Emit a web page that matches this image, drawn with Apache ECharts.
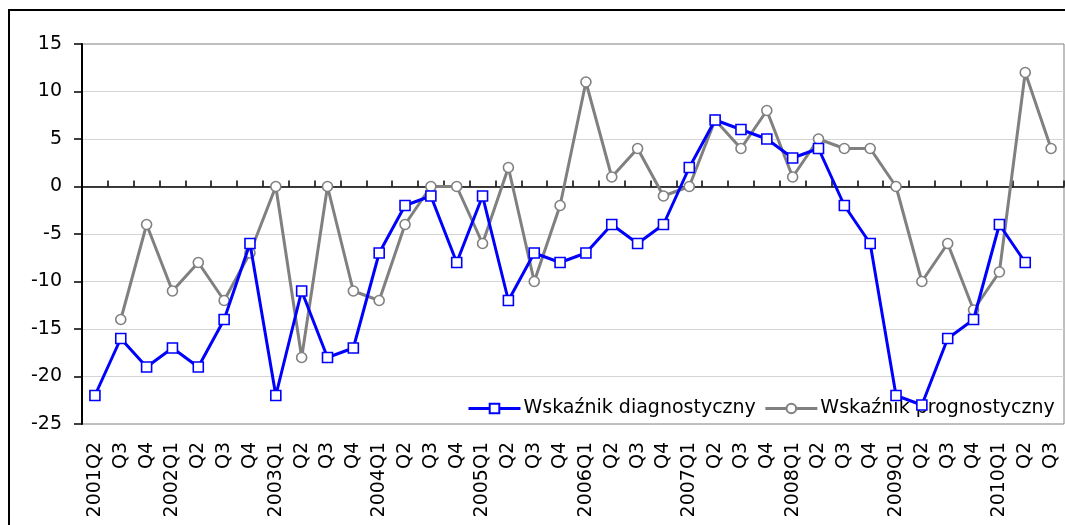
<!DOCTYPE html>
<html>
<head>
<meta charset="utf-8">
<script src="https://cdn.jsdelivr.net/npm/echarts@6/dist/echarts.min.js"></script>
<style>
html,body{margin:0;padding:0;background:#fff;}
#chart{width:1065px;height:525px;}
</style>
</head>
<body>
<div id="chart"></div>
<script>
var categories = ["2001Q2","Q3","Q4","2002Q1","Q2","Q3","Q4","2003Q1","Q2","Q3","Q4","2004Q1","Q2","Q3","Q4","2005Q1","Q2","Q3","Q4","2006Q1","Q2","Q3","Q4","2007Q1","Q2","Q3","Q4","2008Q1","Q2","Q3","Q4","2009Q1","Q2","Q3","Q4","2010Q1","Q2","Q3"];
var diagnostyczny = [-22,-16,-19,-17,-19,-14,-6,-22,-11,-18,-17,-7,-2,-1,-8,-1,-12,-7,-8,-7,-4,-6,-4,2,7,6,5,3,4,-2,-6,-22,-23,-16,-14,-4,-8,null];
var prognostyczny = [null,-14,-4,-11,-8,-12,-7,0,-18,0,-11,-12,-4,0,0,-6,2,-10,-2,11,1,4,-1,0,7,4,8,1,5,4,4,0,-10,-6,-13,-9,12,4];
var yTicks = {min:-25, max:15, interval:5};
var seriesNames = ["Wskaźnik diagnostyczny","Wskaźnik prognostyczny"];

var chart = echarts.init(document.getElementById('chart'), null, {renderer:'canvas'});
var font = 'DejaVu Sans';
chart.setOption({
  animation:false,
  backgroundColor:'#fff',
  textStyle:{fontFamily:font},
  grid:{left:82, top:44, right:1, bottom:101, show:true, borderColor:'#808080', borderWidth:1, backgroundColor:'transparent'},
  graphic:[{type:'rect', shape:{x:9, y:10, width:1200, height:700}, style:{fill:'none', stroke:'#000', lineWidth:2}, silent:true, z:-1}],
  legend:{
    left:462, top:394, itemWidth:52, itemHeight:12, itemGap:8, z:1,
    lineStyle:{width:3},
    textStyle:{fontFamily:font, fontSize:19, color:'#000', padding:[0,0,0,-2]},
    data:seriesNames
  },
  xAxis:[
    {type:'category', data:categories, gridIndex:0, boundaryGap:true,
     axisLine:{onZero:true, lineStyle:{color:'#000', width:1.5}},
     axisTick:{show:true, inside:true, length:6, interval:0, lineStyle:{color:'#000', width:1.5}},
     axisLabel:{show:false}, splitLine:{show:false}},
    {type:'category', data:categories, gridIndex:0, position:'bottom', boundaryGap:true,
     axisLine:{show:false, onZero:false}, axisTick:{show:false},
     axisLabel:{show:true, rotate:90, interval:0, margin:18, fontFamily:font, fontSize:19, color:'#000'},
     splitLine:{show:false}}
  ],
  yAxis:{type:'value', min:yTicks.min, max:yTicks.max, interval:yTicks.interval,
    axisLine:{show:true, onZero:false, lineStyle:{color:'#000', width:2}},
    axisTick:{show:true, inside:false, length:8, lineStyle:{color:'#000', width:1.5}},
    axisLabel:{margin:20, fontFamily:font, fontSize:19, color:'#000'},
    splitLine:{show:true, showMinLine:false, showMaxLine:false, lineStyle:{color:'#d4d4d4', width:1}}
  },
  series:[
    {name:seriesNames[0], type:'line', data:diagnostyczny, xAxisIndex:0, connectNulls:false,
     symbol:'rect', symbolSize:10, showSymbol:true,
     lineStyle:{color:'#0000ff', width:3},
     itemStyle:{color:'#fff', borderColor:'#0000ff', borderWidth:1.6},
     z:3},
    {name:seriesNames[1], type:'line', data:prognostyczny, xAxisIndex:0, connectNulls:false,
     symbol:'circle', symbolSize:10, showSymbol:true,
     lineStyle:{color:'#808080', width:3},
     itemStyle:{color:'#fff', borderColor:'#808080', borderWidth:1.6},
     z:2}
  ]
});
</script>
</body>
</html>
